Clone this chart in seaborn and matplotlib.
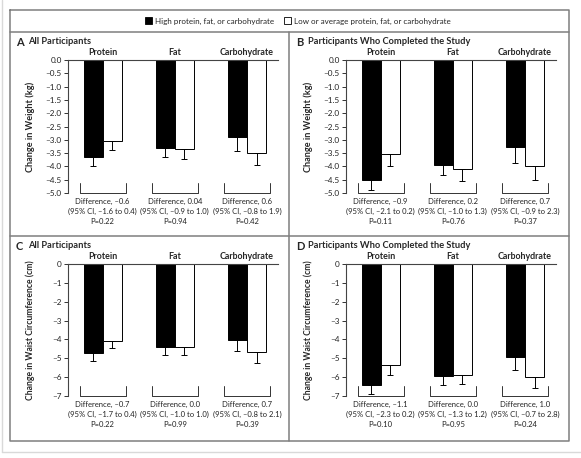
import matplotlib
matplotlib.use('Agg')
import matplotlib.pyplot as plt
import matplotlib.transforms as mtransforms
from matplotlib.lines import Line2D
from matplotlib.patches import Patch
import numpy as np
import pandas as pd
import seaborn as sns

# data
nutrients = ['Protein', 'Fat', 'Carbohydrate']
groups = ['High protein, fat, or carbohydrate', 'Low or average protein, fat, or carbohydrate']

# A: weight, all participants
a_high = [-3.63, -3.31, -2.89]
a_low = [-3.04, -3.35, -3.48]
a_high_err = [0.36, 0.35, 0.52]
a_low_err = [0.36, 0.36, 0.46]
a_notes = [('Difference, \u20130.6', '(95% CI, \u20131.6 to 0.4)', 'P=0.22'),
           ('Difference, 0.04', '(95% CI, \u20130.9 to 1.0)', 'P=0.94'),
           ('Difference, 0.6', '(95% CI, \u20130.8 to 1.9)', 'P=0.42')]

# B: weight, completers
b_high = [-4.50, -3.93, -3.26]
b_low = [-3.55, -4.10, -3.97]
b_high_err = [0.38, 0.41, 0.62]
b_low_err = [0.42, 0.44, 0.56]
b_notes = [('Difference, \u20130.9', '(95% CI, \u20132.1 to 0.2)', 'P=0.11'),
           ('Difference, 0.2', '(95% CI, \u20131.0 to 1.3)', 'P=0.76'),
           ('Difference, 0.7', '(95% CI, \u20130.9 to 2.3)', 'P=0.37')]

# C: waist, all participants
c_high = [-4.71, -4.41, -4.04]
c_low = [-4.09, -4.41, -4.69]
c_high_err = [0.42, 0.39, 0.56]
c_low_err = [0.39, 0.40, 0.57]
c_notes = [('Difference, \u20130.7', '(95% CI, \u20131.7 to 0.4)', 'P=0.22'),
           ('Difference, 0.0', '(95% CI, \u20131.0 to 1.0)', 'P=0.99'),
           ('Difference, 0.7', '(95% CI, \u20130.8 to 2.1)', 'P=0.39')]

# D: waist, completers
d_high = [-6.44, -5.93, -4.94]
d_low = [-5.36, -5.89, -5.98]
d_high_err = [0.46, 0.47, 0.69]
d_low_err = [0.50, 0.48, 0.60]
d_notes = [('Difference, \u20131.1', '(95% CI, \u20132.3 to 0.2)', 'P=0.10'),
           ('Difference, 0.0', '(95% CI, \u20131.3 to 1.2)', 'P=0.95'),
           ('Difference, 1.0', '(95% CI, \u20130.7 to 2.8)', 'P=0.24')]

weight_ticks = [0.0, -0.5, -1.0, -1.5, -2.0, -2.5, -3.0, -3.5, -4.0, -4.5, -5.0]
waist_ticks = [0, -1, -2, -3, -4, -5, -6, -7]

sns.set_theme(style='white')
plt.rcParams['font.family'] = ['Lato', 'DejaVu Sans']
plt.rcParams['axes.unicode_minus'] = False

W, H = 581, 458
fig = plt.figure(figsize=(W / 100, H / 100), dpi=100)


def px_axes(x0, y0, x1, y1):
    # pixel box (top-left origin) -> figure axes
    return fig.add_axes([x0 / W, 1 - y1 / H, (x1 - x0) / W, (y1 - y0) / H])


def fig_line(xs, ys, color='#7f7f7f', lw=1.1):
    fig.add_artist(Line2D([x / W for x in xs], [1 - y / H for y in ys],
                          transform=fig.transFigure, color=color, lw=lw))


def tick_fmt(t, fmt):
    s = fmt % t
    return s.replace('-', '\u2013')


def panel(ax, high, low, high_err, low_err, notes, ticks, ylabel, fmt, label_size, label_y):
    df = pd.DataFrame({
        'nutrient': nutrients * 2,
        'group': [groups[0]] * 3 + [groups[1]] * 3,
        'change': high + low,
    })
    sns.barplot(data=df, x='nutrient', y='change', hue='group', order=nutrients,
                hue_order=groups, palette=['black', 'white'], edgecolor='black',
                linewidth=0.7, width=0.53, errorbar=None, legend=False, ax=ax)
    bars = sorted([p for p in ax.patches if p.get_width() > 0], key=lambda p: p.get_x())
    errs = [e for pair in zip(high_err, low_err) for e in pair]
    xs = [p.get_x() + p.get_width() / 2 for p in bars]
    ys = [p.get_height() for p in bars]
    ax.errorbar(xs, ys, yerr=[errs, [0] * len(errs)], fmt='none', ecolor='black',
                elinewidth=0.7, capsize=2.2, capthick=0.7, zorder=1)

    ax.set_xlim(-0.48, 2.43)
    ax.set_ylim(ticks[-1], 0)
    ax.set_yticks(ticks)
    ax.set_yticklabels([tick_fmt(t, fmt) for t in ticks], fontsize=5.9)
    ax.set_xticks([])
    ax.set_xlabel('')
    ax.set_ylabel(ylabel, fontsize=label_size, fontweight='bold')
    ax.yaxis.set_label_coords(-33 / 210, label_y)
    ax.tick_params(axis='y', direction='out', length=3, width=0.7, pad=1.5,
                   colors='#333333', left=True)
    ax.tick_params(axis='y', labelcolor='#222222')
    for side in ['right', 'bottom']:
        ax.spines[side].set_visible(False)
    for side in ['left', 'top']:
        ax.spines[side].set_color('#444444')
        ax.spines[side].set_linewidth(0.8)

    trans = mtransforms.blended_transform_factory(ax.transData, ax.transAxes)
    h = 10 / 133
    for i, name in enumerate(nutrients):
        ax.text(i, 1.055, name, transform=trans, ha='center', va='center',
                fontsize=6.4, fontweight='bold')
        ax.plot([i - 0.32, i - 0.32, i + 0.32, i + 0.32], [h, 0, 0, h],
                transform=trans, color='#333333', lw=0.7, clip_on=False)
        ax.annotate('\n'.join(notes[i]), xy=(i, 0), xycoords=trans,
                    xytext=(0, -3.2), textcoords='offset points', ha='center',
                    va='top', fontsize=5.5, linespacing=1.5, color='#222222')


axA = px_axes(68, 60, 278, 193)
panel(axA, a_high, a_low, a_high_err, a_low_err, a_notes, weight_ticks,
      'Change in Weight (kg)', '%.1f', 6.6, 0.5)
axB = px_axes(346, 60, 556, 193)
panel(axB, b_high, b_low, b_high_err, b_low_err, b_notes, weight_ticks,
      'Change in Weight (kg)', '%.1f', 6.6, 0.5)
axC = px_axes(68, 264, 278, 396)
panel(axC, c_high, c_low, c_high_err, c_low_err, c_notes, waist_ticks,
      'Change in Waist Circumference (cm)', '%d', 6.2, 0.5)
axD = px_axes(346, 264, 556, 396)
panel(axD, d_high, d_low, d_high_err, d_low_err, d_notes, waist_ticks,
      'Change in Waist Circumference (cm)', '%d', 6.2, 0.5)

# panel titles
titles = [('A', 'All Participants', 16, 42), ('B', 'Participants Who Completed the Study', 296, 42),
          ('C', 'All Participants', 16, 246), ('D', 'Participants Who Completed the Study', 296, 246)]
for letter, text, x, y in titles:
    fig.text(x / W, 1 - y / H, letter, fontsize=8, fontweight='bold', va='center')
    fig.text((x + 12) / W, 1 - y / H, text, fontsize=6.7, fontweight='bold', va='center')

# frame
fig_line([10, 569, 569, 10, 10], [10, 10, 441, 441, 10])
fig_line([10, 569], [32, 32])
fig_line([10, 569], [236, 236])
fig_line([289, 289], [32, 441])
fig_line([2, 2], [0, 452], color='#d9d9d9', lw=1)
fig_line([2, 581], [452, 452], color='#d9d9d9', lw=1)

handles = [Patch(facecolor='black', edgecolor='black', lw=0.6),
           Patch(facecolor='white', edgecolor='black', lw=0.6)]
fig.legend(handles, groups, loc='center', bbox_to_anchor=(298 / W, 1 - 21 / H), ncol=2,
           frameon=False, fontsize=5.8, handlelength=0.9, handleheight=0.9,
           handletextpad=0.4, columnspacing=1.2, borderaxespad=0)

fig.savefig('out.png', dpi=100)
